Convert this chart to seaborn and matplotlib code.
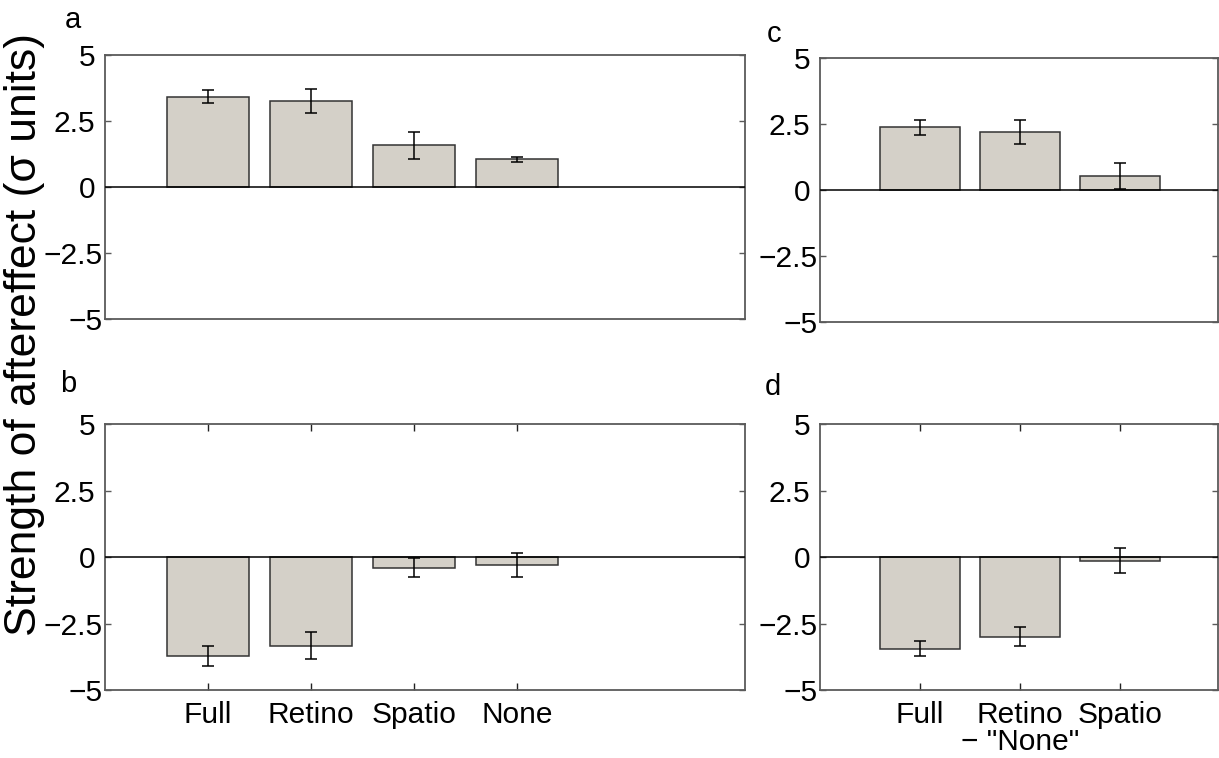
import matplotlib
matplotlib.use("Agg")
import matplotlib.pyplot as plt
import matplotlib.transforms as mtransforms
import seaborn as sns
import numpy as np

sns.set_theme(style="white")
plt.rcParams["font.family"] = ["Liberation Sans", "DejaVu Sans"]
plt.rcParams["axes.unicode_minus"] = True
plt.rcParams["text.color"] = "black"
plt.rcParams["xtick.color"] = "black"
plt.rcParams["ytick.color"] = "black"
plt.rcParams["xtick.labelcolor"] = "black"
plt.rcParams["ytick.labelcolor"] = "black"

# Aftereffect strength (sigma units) with error bars
conds_4 = ["Full", "Retino", "Spatio", "None"]
conds_3 = ["Full", "Retino", "Spatio"]

a_vals = [3.41, 3.24, 1.57, 1.04]
a_errs = [0.25, 0.46, 0.50, 0.08]

b_vals = [-3.71, -3.34, -0.39, -0.28]
b_errs = [0.37, 0.51, 0.36, 0.45]

c_vals = [2.36, 2.18, 0.53]
c_errs = [0.27, 0.46, 0.49]

d_vals = [-3.45, -3.00, -0.13]
d_errs = [0.28, 0.36, 0.48]

bottom_labels_4 = ["Full", "Retino", "Spatio", "None"]
bottom_labels_3 = ["Full", "Retino\n\u2212 \"None\"", "Spatio"]
ytick_vals = [-5, -2.5, 0, 2.5, 5]
ytick_text = ["\u22125", "\u22122.5", "0", "2.5", "5"]

BAR = "#d4d0c8"
SPINE = "#5a5a5a"
TICKFS = 21.5

W, H = 1219, 758
fig = plt.figure(figsize=(W / 100, H / 100), dpi=100)


def box(l, r, t, b):
    return [l / W, 1 - b / H, (r - l) / W, (b - t) / H]


ax_a = fig.add_axes(box(105, 745.3, 54.7, 319.3))
ax_c = fig.add_axes(box(820, 1218, 57.7, 322))
ax_b = fig.add_axes(box(105, 745.3, 424.3, 690))
ax_d = fig.add_axes(box(820, 1218, 424.3, 690))


def panel(ax, cats, vals, errs, xmax, labels=None):
    sns.barplot(x=cats, y=vals, color=BAR, edgecolor="#333333", linewidth=1.1,
                width=0.8, saturation=1, errorbar=None, ax=ax, zorder=2)
    ax.errorbar(np.arange(len(cats)), vals, yerr=errs, fmt="none",
                ecolor="black", elinewidth=1.1, capsize=4, capthick=1.1, zorder=3)
    ax.axhline(0, color="black", lw=1.1, zorder=4)
    ax.set_ylim(-5, 5)
    ax.set_xlim(-1, xmax)
    ax.set_yticks(ytick_vals)
    ax.set_yticklabels(ytick_text, fontsize=TICKFS)
    ax.tick_params(axis="y", direction="in", left=True, right=True,
                   length=4, width=1, color=SPINE, pad=7)
    # negative labels sit a little closer to the axis
    shift = mtransforms.ScaledTranslation(7 / 100, 0, fig.dpi_scale_trans)
    for v, lab in zip(ytick_vals, ax.get_yticklabels()):
        if v < 0:
            lab.set_transform(lab.get_transform() + shift)
    if labels is None:
        ax.set_xticks([])
    else:
        ax.set_xticks(np.arange(len(cats)))
        ax.set_xticklabels(labels, fontsize=TICKFS, linespacing=0.95)
        ax.tick_params(axis="x", direction="in", bottom=True, top=True,
                       length=5, width=1, color="#222222", pad=8)
    ax.set_xlabel("")
    ax.set_ylabel("")
    for s in ax.spines.values():
        s.set_visible(True)
        s.set_color(SPINE)
        s.set_linewidth(1.3)
    ax.set_facecolor("white")


panel(ax_a, conds_4, a_vals, a_errs, 5.22)
panel(ax_b, conds_4, b_vals, b_errs, 5.22, bottom_labels_4)
panel(ax_c, conds_3, c_vals, c_errs, 2.98)
panel(ax_d, conds_3, d_vals, d_errs, 2.98, bottom_labels_3)

# panel letters
for txt, x, y in [("a", 65, 28), ("b", 60, 392), ("c", 767, 42), ("d", 765, 395)]:
    fig.text(x / W, 1 - y / H, txt, fontsize=21, ha="left", va="baseline")

fig.text(25 / W, 1 - 334 / H, "Strength of aftereffect (\u03c3 units)",
         rotation=90, fontsize=32, ha="center", va="center")

fig.savefig("out.png", dpi=100, facecolor="white")
